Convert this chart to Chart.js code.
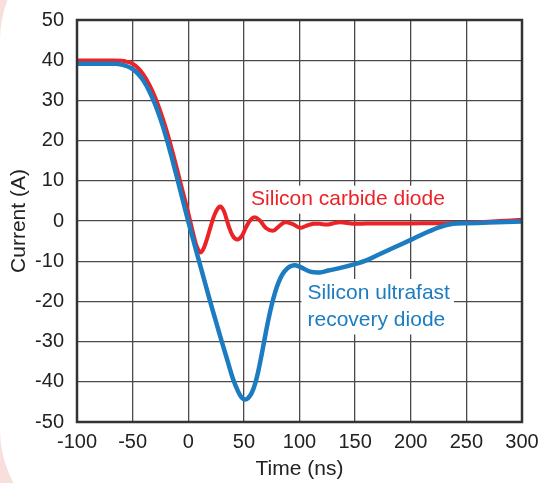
<!DOCTYPE html>
<html>
<head>
<meta charset="utf-8">
<script src="https://cdn.jsdelivr.net/npm/chart.js@4.4.0/dist/chart.umd.min.js"></script>
<style>
  html, body { margin: 0; padding: 0; }
  body { width: 544px; height: 483px; overflow: hidden; position: relative; background: #f8dfdb; }
  #card { position: absolute; left: 0; top: -70px; width: 560px; height: 610px; background: #fff;
          border-top-left-radius: 110px; border-bottom-left-radius: 110px; }
  #user-chart { position: absolute; left: 0; top: 0; }
</style>
</head>
<body>
<div id="card"></div>
<canvas id="user-chart" width="544" height="483"></canvas>
<script>
// Silicon carbide diode (red) - time in ns, current in A
const sicTime = [-100, -70, -60, -55, -50, -45, -40, -35, -30, -25, -20, -15, -10, -5, 0, 4, 7, 10.6, 13, 16, 20, 24, 28.5, 32, 36, 40, 44, 48, 52, 56, 60, 64.5, 70, 76.5, 82, 87, 94, 100.5, 106, 112.5, 118, 124.5, 130, 136.7, 148.6, 160, 180, 200, 220, 240, 260, 280, 300];
const sicCurrent = [39.9, 39.9, 39.85, 39.6, 39.1, 38.0, 36.3, 33.9, 30.9, 27.2, 23.0, 18.1, 12.8, 7.4, 2.0, -2.6, -5.8, -7.8, -7.3, -5.2, -1.5, 1.8, 3.6, 2.5, -1, -3.7, -4.6, -3.8, -1.5, 0.3, 0.9, 0.1, -1.8, -2.4, -1.2, -0.3, -0.8, -1.7, -1.2, -0.7, -0.7, -0.9, -0.6, -0.3, -0.7, -0.6, -0.6, -0.6, -0.55, -0.5, -0.3, 0, 0.3];

// Silicon ultrafast recovery diode (blue)
const ufTime = [-100, -65, -60, -55, -50, -45, -40, -35, -30, -25, -20, -15, -10, -5, 0, 5, 10, 15, 20, 25, 30, 35, 40.5, 45, 48, 51, 54, 57, 60, 63, 66, 69, 72, 75, 78, 81, 84, 87, 91, 96, 102, 109.5, 118.4, 126, 135, 151.4, 160, 169.4, 185, 200, 213, 226, 238, 250, 270, 300];
const ufCurrent = [39.1, 39.1, 38.9, 38.5, 37.8, 36.6, 34.8, 32.3, 29.2, 25.4, 21.0, 16.0, 10.7, 5.3, -0.1, -5.2, -10.3, -15.3, -20.3, -25.1, -29.9, -34.5, -39.5, -42.5, -43.9, -44.4, -44.0, -42.8, -40.6, -37.3, -33.2, -28.8, -24.6, -20.9, -17.8, -15.4, -13.6, -12.4, -11.4, -11, -11.6, -12.6, -12.8, -12.3, -11.8, -10.6, -9.8, -8.6, -6.6, -4.7, -3, -1.5, -0.7, -0.55, -0.4, -0.1];

const xTicks = [-100, -50, 0, 50, 100, 150, 200, 250, 300];
const yTicks = [-50, -40, -30, -20, -10, 0, 10, 20, 30, 40, 50];

const toPoints = (xs, ys) => xs.map((x, i) => ({ x: x, y: ys[i] }));

const fontFamily = "'Liberation Sans', Arial, sans-serif";

// text labels placed in data units
const notes = [
  { lines: ["Silicon carbide diode"], x: 56.5, y: 5.3, color: "#ec2227" },
  { lines: ["Silicon ultrafast", "recovery diode"], x: 107.2, y: -17.9, color: "#1b7cc1" },
];

const frameAndNotes = {
  id: "frameAndNotes",
  afterDatasetsDraw(chart) {
    const { ctx, chartArea: a, scales } = chart;
    ctx.save();
    ctx.font = "21px " + fontFamily;
    ctx.textBaseline = "middle";
    notes.forEach((n) => {
      const px = scales.x.getPixelForValue(n.x);
      const py = scales.y.getPixelForValue(n.y);
      const w = Math.max(...n.lines.map((l) => ctx.measureText(l).width));
      const lh = 27.5;
      ctx.fillStyle = "#fff";
      ctx.fillRect(px - 6, py - 14, w + 10, lh * (n.lines.length - 1) + 28);
      ctx.fillStyle = n.color;
      n.lines.forEach((l, i) => ctx.fillText(l, px, py + i * lh));
    });
    ctx.strokeStyle = "#333";
    ctx.lineWidth = 2.5;
    ctx.strokeRect(a.left, a.top, a.right - a.left, a.bottom - a.top);
    ctx.restore();
  },
};

document.addEventListener("DOMContentLoaded", () => {
  const ctx = document.getElementById("user-chart").getContext("2d");
  new Chart(ctx, {
    type: "line",
    data: {
      datasets: [
        {
          label: "Silicon ultrafast recovery diode",
          data: toPoints(ufTime, ufCurrent),
          borderColor: "#1b7cc1",
          borderWidth: 4.5,
          pointRadius: 0,
          tension: 0.35,
          order: 0,
        },
        {
          label: "Silicon carbide diode",
          data: toPoints(sicTime, sicCurrent),
          borderColor: "#ec2227",
          borderWidth: 4,
          pointRadius: 0,
          tension: 0.35,
          order: 1,
        },
      ],
    },
    options: {
      responsive: false,
      animation: false,
      layout: { padding: { left: 0, top: 20, right: 22, bottom: 0 } },
      plugins: { legend: { display: false }, tooltip: { enabled: false } },
      scales: {
        x: {
          type: "linear",
          min: -100,
          max: 300,
          afterBuildTicks: (s) => { s.ticks = xTicks.map((v) => ({ value: v })); },
          afterFit: (s) => { s.height = 61; s.paddingLeft = 0; s.paddingRight = 0; },
          grid: { color: "#4a4a4a", lineWidth: 1.3, drawTicks: false },
          border: { display: false },
          ticks: { color: "#222", font: { family: fontFamily, size: 20 }, padding: 8, maxRotation: 0, autoSkip: false },
          title: { display: true, text: "Time (ns)", color: "#222", font: { family: fontFamily, size: 21 }, padding: { bottom: 1 } },
        },
        y: {
          min: -50,
          max: 50,
          afterBuildTicks: (s) => { s.ticks = yTicks.map((v) => ({ value: v })); },
          afterFit: (s) => { s.width = 77; s.paddingTop = 0; s.paddingBottom = 0; },
          grid: { color: "#4a4a4a", lineWidth: 1.3, drawTicks: false },
          border: { display: false },
          ticks: { color: "#222", font: { family: fontFamily, size: 20 }, padding: 13, autoSkip: false },
          title: { display: true, text: "Current (A)", color: "#222", font: { family: fontFamily, size: 21 }, padding: { top: 7 } },
        },
      },
    },
    plugins: [frameAndNotes],
  });
});
</script>
</body>
</html>
